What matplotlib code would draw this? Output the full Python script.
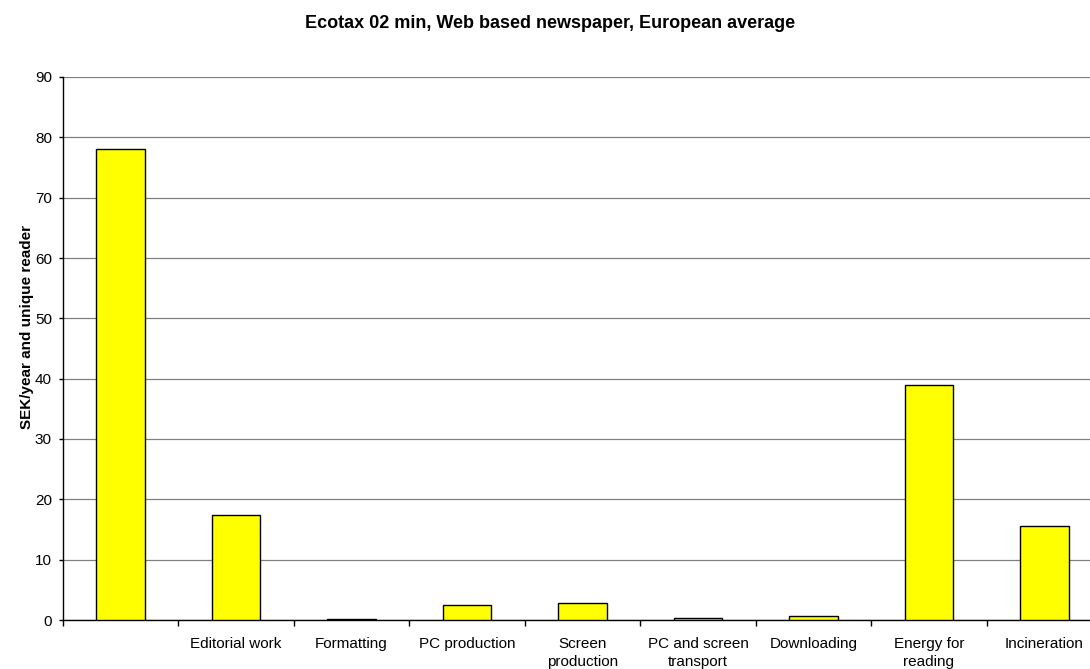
import numpy as np
import matplotlib.pyplot as plt
from matplotlib.ticker import MultipleLocator, FixedLocator

plt.rcParams['font.family'] = ['Liberation Sans', 'DejaVu Sans']

# ================= data =================
TITLE = 'Ecotax 02 min, Web based newspaper, European average'
Y_LABEL = 'SEK/year and unique reader'
categories = ['', 'Editorial work', 'Formatting', 'PC production', 'Screen\nproduction',
              'PC and screen\ntransport', 'Downloading', 'Energy for\nreading', 'Incineration']
values = [78.1, 17.4, 0.1, 2.5, 2.8, 0.25, 0.7, 38.9, 15.6]

W, H = 1090, 669
fig = plt.figure(figsize=(W / 100, H / 100), dpi=100)
# axes reaches past the right edge of the picture, as in the original
ax = fig.add_axes([63 / W, 1 - 620 / H, (1102 - 63) / W, (620 - 77) / H])

x = np.arange(len(categories))
ax.bar(x, values, width=0.42, color='#ffff00', edgecolor='black', linewidth=1.0, zorder=3)

ax.set_xlim(-0.5, len(categories) - 0.5)
ax.set_ylim(0, 90)
ax.yaxis.set_major_locator(MultipleLocator(10))
ax.grid(axis='y', color='#808080', linewidth=0.9, zorder=0)

ax.set_xticks(x)
ax.set_xticklabels(categories, fontsize=11, linespacing=1.4)
ax.xaxis.set_minor_locator(FixedLocator(np.arange(len(categories) + 1) - 0.5))
ax.tick_params(axis='x', which='major', length=0, pad=12)
ax.tick_params(axis='x', which='minor', length=4, width=1, direction='out')
ax.tick_params(axis='y', length=3, width=1, direction='out', labelsize=11, pad=5)

for s in ['top', 'right']:
    ax.spines[s].set_visible(False)
ax.spines['left'].set_linewidth(1.0)
ax.spines['bottom'].set_linewidth(1.0)

fig.text(27 / W, 1 - 327 / H, Y_LABEL, rotation=90, ha='center', va='center',
         fontsize=11, fontweight='bold')
fig.text(550 / W, 1 - 23 / H, TITLE, ha='center', va='center', fontsize=13, fontweight='bold')

fig.savefig('out.png', dpi=100)
